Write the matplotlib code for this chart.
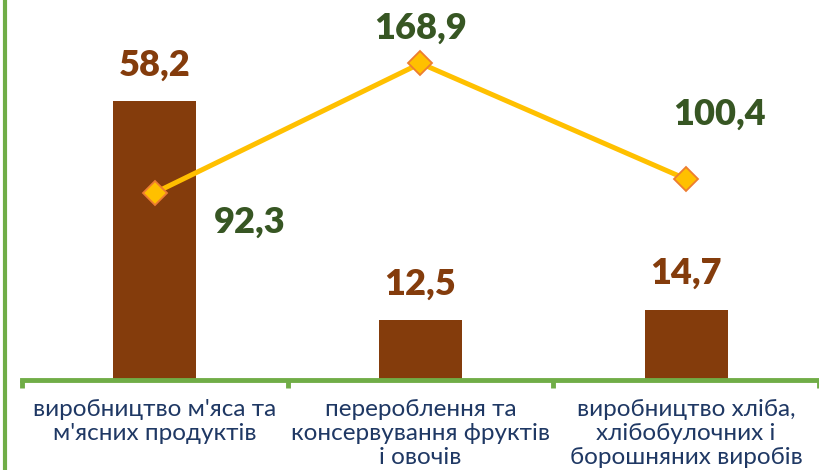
import matplotlib
matplotlib.use("Agg")
import matplotlib.pyplot as plt
from matplotlib.lines import Line2D

plt.rcParams['font.family'] = ['Lato', 'DejaVu Sans']

categories = ["виробництво м'яса та\nм'ясних продуктів",
              "перероблення та\nконсервування фруктів\nі овочів",
              "виробництво хліба,\nхлібобулочних і\nборошняних виробів"]
bar_values = [58.2, 12.5, 14.7]
line_values = [92.3, 168.9, 100.4]
bar_labels = ["58,2", "12,5", "14,7"]
line_labels = ["92,3", "168,9", "100,4"]

# label offsets in points (style/position, not data)
bar_label_offset = 26
line_label_offsets = [(68, -21), (0, 25), (24, 47)]

BROWN = "#843C0C"
DGREEN = "#375623"
GREEN = "#70AD47"
GOLD = "#FFC000"
ORANGE = "#ED7D31"
NAVY = "#1F3864"

fig = plt.figure(figsize=(8.19, 4.70), dpi=100)
ax = fig.add_axes([22/819, 90/470, 797/819, 380/470])
x = list(range(len(categories)))

ax.bar(x, bar_values, width=0.312, color=BROWN, zorder=2)
ax.set_xlim(-0.5, 2.5)
ax.set_ylim(0, 79.3)
for xi, v, lab in zip(x, bar_values, bar_labels):
    ax.annotate(lab, (xi, v), xytext=(0, bar_label_offset), textcoords='offset points',
                ha='center', va='center', fontsize=26, fontweight='heavy', color=BROWN)

for s in ['top', 'right', 'left']:
    ax.spines[s].set_visible(False)
ax.spines['bottom'].set_color(GREEN)
ax.spines['bottom'].set_linewidth(3.5)
ax.set_yticks([])
ax.set_xticks([-0.5, 0.5, 1.5, 2.5])
ax.set_xticklabels([])
ax.tick_params(axis='x', which='major', direction='out', length=6, width=3.5, color=GREEN)
ax.set_xticks(x, minor=True)
ax.set_xticklabels(categories, minor=True)
ax.tick_params(axis='x', which='minor', length=0, pad=14, labelsize=17.5, labelcolor=NAVY)
for t in ax.get_xticklabels(minor=True):
    t.set_linespacing(1.17)
    t.set_va('top')

ax2 = ax.twinx()
ax2.set_ylim(-18.5, 206.4)
ax2.plot(x, line_values, color=GOLD, linewidth=3.6, marker='D', markersize=12,
         markerfacecolor=GOLD, markeredgecolor=ORANGE, markeredgewidth=1.3, zorder=3)
for s in ['top', 'right', 'left', 'bottom']:
    ax2.spines[s].set_visible(False)
ax2.set_yticks([])
for xi, v, lab, off in zip(x, line_values, line_labels, line_label_offsets):
    ax2.annotate(lab, (xi, v), xytext=off, textcoords='offset points',
                 ha='center', va='center', fontsize=26, fontweight='heavy', color=DGREEN)

fig.add_artist(Line2D([5/819, 5/819], [0, 1], color=GREEN, linewidth=3, transform=fig.transFigure))

fig.savefig("out.png", dpi=100)
